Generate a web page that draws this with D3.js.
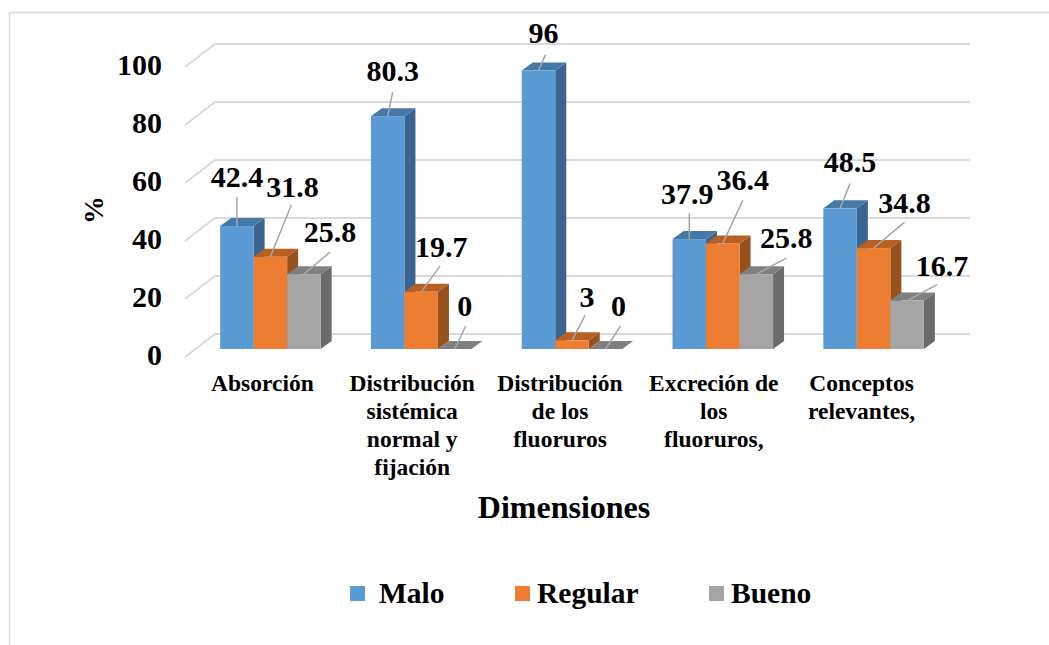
<!DOCTYPE html>
<html><head><meta charset="utf-8">
<script src="https://cdn.jsdelivr.net/npm/d3@7"></script>
<style>html,body{margin:0;padding:0;background:#fff}svg{display:block}
text{font-family:"Liberation Serif",serif;font-weight:bold;fill:#000}</style></head>
<body><svg id="c" width="1049" height="645"></svg>
<script>
const categories=[["Absorción"],["Distribución","sistémica","normal y","fijación"],["Distribución","de los","fluoruros"],["Excreción de","los","fluoruros,"],["Conceptos","relevantes,"]];
const seriesNames=["Malo","Regular","Bueno"];
const malo=[42.4,80.3,96,37.9,48.5];
const regular=[31.8,19.7,3,36.4,34.8];
const bueno=[25.8,0,0,25.8,16.7];
const yTicks=[0,20,40,60,80,100];
const colors=[["#5b9bd5","#4579a8","#3b6590"],["#ed7d31","#b85f22","#96511d"],["#a5a5a5","#808080","#6b6b6b"]];
// label centres relative to the front-top centre of each bar (layout only)
const labelOffsets=[[[0,-49],[22,-70],[26,-42]],[[5,-45],[20,-45],[10,-43]],[[5,-38],[15,-43],[13,-43]],[[-2,-45],[20,-63],[30,-36]],[[10,-46],[31,-45],[35,-35]]];
const leaderEnds=[[[0,-29],[21,-52],[26,-22]],[[5,-24],[19,-26],[11,-23]],[[7,-16],[13,-25],[15,-23]],[[0,-26],[20,-43],[30,-16]],[[10,-25],[31,-26],[30,-16]]];
const catShift=[0,-1,-4,-1,-4];

const svg=d3.select("#c");
const dx=11,dy=-8;
const x0=d3.scaleBand().domain(d3.range(5)).range([195,949]).paddingInner(1/3).paddingOuter(1/6);
const x1=d3.scaleBand().domain(d3.range(3)).range([0,x0.bandwidth()]);
const y=d3.scaleLinear().domain([0,100]).range([349,59]);
const series=[malo,regular,bueno];

svg.append("path").attr("d","M9.5,645V12.5H1049").attr("fill","none").attr("stroke","#d9d9d9").attr("stroke-width",1.5);

// walls
const grid=svg.append("g").attr("fill","none").attr("stroke","#d9d9d9").attr("stroke-width",2);
const wx=d3.scaleLinear().domain([0,1]).range([185,215]);
yTicks.forEach(t=>{
  const yb=y(t)-15;
  grid.append("path").attr("d",`M${wx(0)},${yb+23}L${wx(1)},${yb}H970`);
});

// ticks
svg.append("g").selectAll("text").data(yTicks).join("text")
  .attr("x",162).attr("y",d=>y(d)+16).attr("text-anchor","end").attr("font-size",30).text(d=>d);

svg.append("text").attr("transform","translate(103,210) rotate(-90)").attr("text-anchor","middle").attr("font-size",28).text("%");

// bars
const bars=svg.append("g");
d3.range(5).forEach(c=>{
  series.forEach((s,i)=>{
    const v=s[c],l=x0(c)+x1(i),w=x1.bandwidth(),r=l+w,t=y(v),b=y(0),col=colors[i];
    const g=bars.append("g");
    g.append("path").attr("fill",col[2]).attr("d",`M${r},${t}L${r+dx},${t+dy}V${b+dy}L${r},${b}Z`);
    g.append("path").attr("fill",col[1]).attr("d",`M${l},${t}L${l+dx},${t+dy}H${r+dx}L${r},${t}Z`);
    if(v>0) g.append("rect").attr("x",l).attr("y",t).attr("width",w).attr("height",b-t).attr("fill",col[0]);
  });
});

// labels and leader lines
const lab=svg.append("g");
d3.range(5).forEach(c=>{
  series.forEach((s,i)=>{
    const v=s[c],cx=x0(c)+x1(i)+x1.bandwidth()/2,t=y(v);
    const [ox,oy]=labelOffsets[c][i],[ex,ey]=leaderEnds[c][i];
    lab.append("line").attr("x1",cx).attr("y1",t).attr("x2",cx+ex).attr("y2",t+ey).attr("stroke","#a6a6a6").attr("stroke-width",1.5);
    lab.append("text").attr("x",cx+ox).attr("y",t+oy+10).attr("text-anchor","middle").attr("font-size",30).text(v);
  });
});

// category labels
const catG=svg.append("g");
categories.forEach((lines,c)=>{
  lines.forEach((ln,k)=>{
    catG.append("text").attr("x",x0(c)+x0.bandwidth()/2-8+catShift[c]).attr("y",391+k*28).attr("text-anchor","middle").attr("font-size",23.5).text(ln);
  });
});

svg.append("text").attr("x",564).attr("y",518).attr("text-anchor","middle").attr("font-size",32).text("Dimensiones");

// legend
const legX=[350,515,709],legT=[379,537,731];
seriesNames.forEach((n,i)=>{
  svg.append("rect").attr("x",legX[i]).attr("y",586).attr("width",15).attr("height",15).attr("fill",colors[i][0]);
  svg.append("text").attr("x",legT[i]).attr("y",603).attr("font-size",29.5).text(n);
});
</script></body></html>
